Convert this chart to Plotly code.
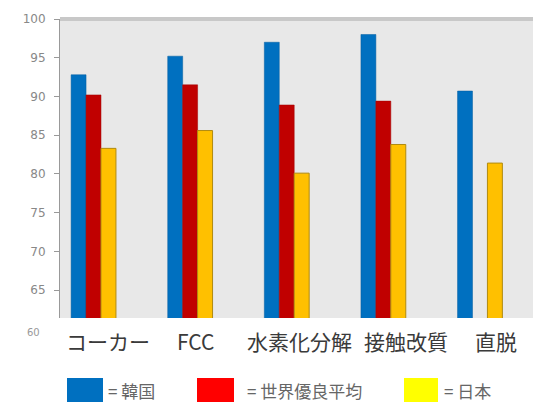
import plotly.graph_objects as go

categories = ["コーカー", "FCC", "水素化分解", "接触改質", "直脱"]
korea = [92.8, 95.2, 97.0, 98.0, 90.7]
world_best = [90.2, 91.5, 88.9, 89.4, None]
japan = [83.3, 85.6, 80.1, 83.8, 81.4]
y_ticks = [65, 70, 75, 80, 85, 90, 95, 100]
legend_labels = ["= 韓国", "= 世界優良平均", "= 日本"]

fig = go.Figure()
fig.add_trace(go.Bar(x=categories, y=korea, marker=dict(color="#0070C0", line=dict(color="#005C9E", width=0.5))))
fig.add_trace(go.Bar(x=categories, y=world_best, marker=dict(color="#C00000", line=dict(color="#A00000", width=0.5))))
fig.add_trace(go.Bar(x=categories, y=japan, marker=dict(color="#FFC000", line=dict(color="#B08A10", width=1))))

W, H = 533, 402
L, R, T, B = 60, 0, 19, 84
pw, ph = W - L - R, H - T - B

def px(xp):
    return (xp - L) / pw

def py(yp):
    return (H - B - yp) / ph

annotations = []
shifts = [14, 6, 13, 23, 16]
for c, s in zip(categories, shifts):
    annotations.append(dict(x=c, xref="x", y=py(341), yref="paper", text=c, showarrow=False,
                            xshift=s, xanchor="center", yanchor="middle",
                            font=dict(family="Noto Sans CJK JP", size=21, color="#3a3a3a")))
annotations.append(dict(x=px(42), xref="paper", y=py(332), yref="paper", text="60", showarrow=False,
                        xanchor="right", yanchor="middle",
                        font=dict(family="DejaVu Sans", size=10, color="#999999")))

shapes = [dict(type="line", xref="paper", yref="paper", x0=0, x1=1, y0=1, y1=1,
               line=dict(color="#C8C8C8", width=4))]
leg_colors = ["#0070C0", "#FF0000", "#FFFF00"]
leg_sq = [(67, 103), (197, 234), (404, 438)]
leg_txt_x = [106, 245, 442]
for col, (x0, x1), tx, lab in zip(leg_colors, leg_sq, leg_txt_x, legend_labels):
    shapes.append(dict(type="rect", xref="paper", yref="paper", x0=px(x0), x1=px(x1),
                       y0=py(404), y1=py(378), fillcolor=col, line=dict(width=0)))
    annotations.append(dict(x=px(tx), xref="paper", y=py(390), yref="paper", text=lab, showarrow=False,
                            xanchor="left", yanchor="middle",
                            font=dict(family="Noto Sans CJK JP", size=17, color="#666666")))

fig.update_layout(
    width=W, height=H,
    margin=dict(l=L, r=R, t=T, b=B, pad=0),
    paper_bgcolor="white", plot_bgcolor="#E8E8E8",
    barmode="group", bargap=0.536, bargroupgap=0,
    showlegend=False,
    annotations=annotations, shapes=shapes,
    xaxis=dict(range=[-0.347, 4.549], showticklabels=False, showgrid=False, zeroline=False,
               ticks="", showline=False),
    yaxis=dict(range=[61.4, 100], tickvals=y_ticks, showgrid=False, zeroline=False,
               showline=True, linecolor="#999999", linewidth=1,
               ticks="outside", ticklen=5, tickcolor="#999999", ticklabelstandoff=6,
               tickfont=dict(family="DejaVu Sans", size=12, color="#888888")),
)
fig.write_html("out.html")
